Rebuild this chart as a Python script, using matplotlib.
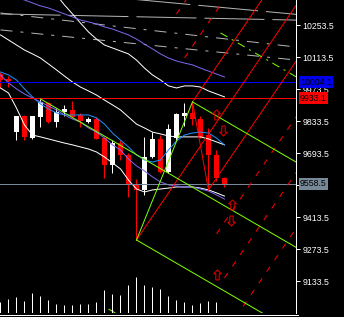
import matplotlib
matplotlib.use("Agg")
import matplotlib.pyplot as plt
import matplotlib.transforms as mtransforms
from matplotlib.lines import Line2D
from matplotlib.path import Path

# ---------------- data ----------------
opens  = [10039, 10017, 9785, 9855, 9759, 9851, 9912, 9829, 9873, 9882, 9860, 9829, 9842, 9759,
          9641, 9737, 9685, 9558, 9532, 9676, 9755, 9610, 9759, 9855, 9869, 9842, 9772, 9685, 9584]
highs  = [10048, 10030, 9855, 9860, 9855, 9930, 9917, 9890, 9903, 9921, 9869, 9851, 9851, 9764,
          9750, 9750, 9694, 9580, 9763, 9785, 9772, 9820, 9869, 9912, 9917, 9855, 9803, 9707, 9589]
lows   = [9978, 9982, 9750, 9750, 9755, 9807, 9825, 9807, 9855, 9847, 9807, 9825, 9755, 9584,
          9606, 9663, 9501, 9313, 9510, 9672, 9606, 9606, 9750, 9812, 9816, 9759, 9532, 9571, 9545]
closes = [10013, 10009, 9855, 9763, 9855, 9917, 9829, 9873, 9886, 9851, 9834, 9842, 9755, 9641,
          9737, 9685, 9553, 9532, 9676, 9755, 9610, 9799, 9864, 9869, 9842, 9764, 9685, 9584, 9558.5]
volumes = [113, 143, 163, 123, 203, 173, 133, 93, 83, 83, 93, 93, 113, 233,
           193, 183, 283, 363, 283, 263, 243, 173, 133, 113, 83, 103, 123, 113, 0]

bb_upper = [10625, 10599, 10569, 10538, 10503, 10464, 10424, 10385, 10341, 10302, 10262, 10223, 10192,
            10166, 10153, 10140, 10127, 10100, 10065, 10035, 10013, 9987, 9978, 9987, 9987, 9982,
            9965, 9952, 9939]
bb_mid = [10210, 10188, 10166, 10144, 10127, 10109, 10083, 10057, 10030, 10004, 9982, 9965, 9947,
          9925, 9904, 9882, 9851, 9820, 9803, 9785, 9777, 9768, 9764, 9764, 9764, 9764, 9755, 9742, 9729]
bb_lower = [9978, 9956, 9890, 9816, 9772, 9764, 9755, 9746, 9737, 9729, 9720, 9711, 9698, 9676,
            9650, 9624, 9575, 9536, 9523, 9532, 9536, 9540, 9545, 9545, 9545, 9540, 9532, 9519, 9505]
ma_fast = [10048, 10035, 10013, 9974, 9939, 9908, 9886, 9869, 9860, 9860, 9860, 9860, 9847, 9820,
           9781, 9750, 9720, 9685, 9663, 9654, 9663, 9707, 9746, 9772, 9781, 9785, 9781, 9759, 9729]
ma_mid = [10035, 10000, 9974, 9952, 9934, 9917, 9899, 9882, 9860, 9842, 9829, 9803, 9785, 9759,
          9729, 9707, 9667, 9637, 9615, 9589, 9567, 9554, 9549, 9545, 9545, 9536, 9527, 9510, 9492]
ma_slow = [10398, 10385, 10372, 10363, 10350, 10337, 10328, 10315, 10302, 10289, 10275, 10267, 10258,
           10245, 10236, 10223, 10210, 10192, 10170, 10149, 10127, 10109, 10096, 10087, 10079, 10065,
           10052, 10039, 10026]

# horizontal price lines
blue_level = 10004.1
red_level = 9933.1
bid_level = 9558.5

# gray trend lines: ((idx0, price0), (idx1, price1))
gray_solid = [((0, 10420), (37, 10300)), ((0, 10302), (37, 10275))]
gray_dashdot = [((0, 10306), (37, 10157)), ((0, 10232), (37, 10100))]

# pitchfork anchor candles
red_fork = [(17, "low"), (24, "high"), (26, "low")]
green_fork = [(5, "high"), (17, "low"), (24, "high")]
fork_levels = [-1.5, -1.0, -0.5, 1.5, 2.0, 2.5]

# signal arrows
arrows_up = [(27.0, 9860), (28.9, 9466), (27.1, 9160)]
arrows_down = [(27.8, 9794), (28.8, 9400)]

ticks = [10253.5, 10113.5, 9973.5, 9833.5, 9693.5, 9553.5, 9413.5, 9273.5, 9133.5]
hidden_ticks = [9553.5]  # covered by the bid price box in the reference

# ---------------- figure ----------------
W, H, DPI = 344, 317, 100
fig = plt.figure(figsize=(W / DPI, H / DPI), dpi=DPI, facecolor="black")
PX = 72.0 / DPI  # 1 pixel in points

rect = [0, (H - 313) / H, 296 / W, 313 / H]
ax = fig.add_axes(rect)
ax.set_facecolor("black")
ax.set_xlim(-0.0625, 36.94)
ax.set_ylim(8993.5, 10362.9)

# volume
axv = fig.add_axes(rect, sharex=ax)
axv.set_ylim(0, 3130)
axv.axis("off")
axv.patch.set_visible(False)
n = len(opens)
idx = list(range(n))
axv.vlines(idx, 0, volumes, color="white", lw=PX)

# candles
for i in idx:
    o, h, l, c = opens[i], highs[i], lows[i], closes[i]
    col = "white" if c > o else "#ff0000"
    ax.vlines(i, l, h, color=col, lw=PX, zorder=3)
    body = c - o
    if abs(body) < 4.4:
        body = 4.4 if body >= 0 else -4.4
    ax.bar(i, body, bottom=o, width=0.62, color=col, edgecolor="none", zorder=3)

# indicators
ax.plot(idx, bb_upper, color="white", lw=PX, zorder=4)
ax.plot(idx, bb_mid, color="white", lw=PX, zorder=4)
ax.plot(idx, bb_lower, color="white", lw=PX, zorder=4)
ax.plot(idx, ma_fast, color="#1e90ff", lw=PX, zorder=4)
ax.plot(idx, ma_mid, color="#7b68ee", lw=PX, zorder=4)
ax.plot(idx, ma_slow, color="#7b68ee", lw=PX, zorder=4)

# horizontal lines
ax.axhline(blue_level, color="#0000ff", lw=PX, zorder=5)
ax.axhline(red_level, color="#ff0000", lw=PX, zorder=5)
ax.axhline(bid_level, color="#778899", lw=PX, zorder=5)

# gray lines
for (p0, p1) in gray_solid:
    ax.plot([p0[0], p1[0]], [p0[1], p1[1]], color="#b4b4b4", lw=PX,
            linestyle=(0, (60, 8)), zorder=2)
for (p0, p1) in gray_dashdot:
    ax.plot([p0[0], p1[0]], [p0[1], p1[1]], color="#b4b4b4", lw=PX,
            linestyle=(0, (12, 8, 3, 8)), zorder=2)


def anchor(spec):
    i, kind = spec
    return (i, highs[i] if kind == "high" else lows[i])


def pitchfork(spec, color, dashed_style):
    A, B, C = [anchor(s) for s in spec]
    M = ((B[0] + C[0]) / 2, (B[1] + C[1]) / 2)
    slope = (M[1] - A[1]) / (M[0] - A[0])
    xe = 45
    for P in (A, B, C):
        ax.plot([P[0], xe], [P[1], P[1] + slope * (xe - P[0])], color=color, lw=PX, zorder=5)
    ax.plot([B[0], C[0]], [B[1], C[1]], color=color, lw=PX, zorder=5)
    for t in fork_levels:
        P = (B[0] + t * (C[0] - B[0]), B[1] + t * (C[1] - B[1]))
        ax.plot([P[0], xe], [P[1], P[1] + slope * (xe - P[0])], color=color, lw=PX,
                linestyle=dashed_style, zorder=5)


pitchfork(red_fork, "#ff0000", (0, (6, 8)))
pitchfork(green_fork, "#7fff00", (0, (8, 5, 2, 5)))

# arrows
up_path = Path([(0, 1), (0.7, 0.3), (0.3, 0.3), (0.3, -0.8), (-0.3, -0.8), (-0.3, 0.3),
                (-0.7, 0.3), (0, 1)], closed=True)
down_path = Path([(x, -y) for x, y in up_path.vertices], closed=True)
ax.plot([a[0] for a in arrows_up], [a[1] for a in arrows_up], linestyle="none",
        marker=up_path, markersize=8, mfc="none", mec="#e00000", mew=PX, zorder=6)
ax.plot([a[0] for a in arrows_down], [a[1] for a in arrows_down], linestyle="none",
        marker=down_path, markersize=8, mfc="none", mec="#e00000", mew=PX, zorder=6)

# axes styling
for s in ("left", "top", "bottom"):
    ax.spines[s].set_visible(False)
ax.spines["right"].set_color("white")
ax.spines["right"].set_linewidth(PX)
ax.set_xticks([])
ax.yaxis.tick_right()
ax.set_yticks(ticks)
ax.set_yticklabels(["" if t in hidden_ticks else f"{t:.1f}" for t in ticks],
                   fontfamily="Liberation Sans", fontsize=6.3)
ax.tick_params(axis="y", colors="white", length=3, width=PX, pad=1.5)

# price boxes
trans = mtransforms.blended_transform_factory(ax.transAxes, ax.transData)
for val, fc in ((blue_level, "#0000ee"), (red_level, "#ff0000"), (bid_level, "#778899")):
    ax.text(1 + 4 / 296, val, f"{val:.1f}", transform=trans, ha="left", va="center",
            fontfamily="Liberation Sans", fontsize=6.3, color="black", zorder=10,
            bbox=dict(boxstyle="square,pad=0.15", fc=fc, ec="none"), clip_on=False)

# bottom double line
for yy in (314.5, 316.5):
    fig.add_artist(Line2D([0, 298 / W], [1 - yy / H, 1 - yy / H], color="white",
                          lw=PX, transform=fig.transFigure))

fig.savefig("out.png", dpi=DPI, facecolor="black")
